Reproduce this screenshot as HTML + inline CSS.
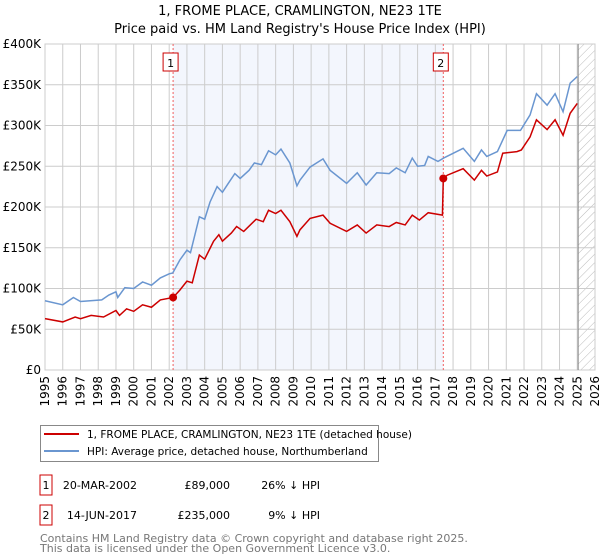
<!DOCTYPE html>
<html><head><meta charset="utf-8"><style>
body{margin:0;background:#fff;font-family:"DejaVu Sans","Liberation Sans",sans-serif;}
#wrap{position:relative;width:600px;height:560px;overflow:hidden;}
svg text{font-family:"DejaVu Sans","Liberation Sans",sans-serif;}
</style></head><body><div id="wrap">
<svg id="chart" width="600" height="560"></svg>
</div>
<script>
const hpiYears=[1995,1996,1996.6,1997,1998.2,1998.6,1999,1999.1,1999.5,2000,2000.5,2001,2001.5,2002,2002.2,2002.6,2003,2003.2,2003.7,2004,2004.3,2004.7,2005,2005.3,2005.7,2006,2006.5,2006.8,2007.2,2007.6,2008,2008.3,2008.8,2009.2,2009.37,2009.94,2010.67,2011.07,2012,2012.6,2013.1,2013.7,2014.4,2014.8,2015.3,2015.7,2016,2016.4,2016.6,2017.15,2017.55,2018.57,2019.2,2019.6,2019.9,2020.5,2021.05,2021.8,2022.34,2022.7,2023.3,2023.75,2024.2,2024.6,2025];
const hpiValues=[85,80,89,84,86,92,96,89,101,100,108,104,113,118,119,135,147,144,188,185,206,225,218,228,241,235,245,254,252,269,264,271,254,226,233,249,259,245,229,242,227,242,241,248,242,260,250,251,262,256,261,272,256,270,262,268,294,294,313,339,325,339,317,352,360];
const paidYears=[1995,1996,1996.7,1997,1997.6,1998.3,1999,1999.2,1999.6,2000,2000.5,2001,2001.5,2002.22,2002.6,2003,2003.3,2003.7,2004,2004.5,2004.8,2005,2005.5,2005.8,2006.2,2006.9,2007.3,2007.6,2008,2008.3,2008.8,2009.2,2009.37,2009.94,2010.67,2011.07,2012,2012.6,2013.1,2013.7,2014.4,2014.8,2015.3,2015.7,2016.1,2016.6,2017.4,2017.45,2017.67,2018.57,2019.2,2019.6,2019.9,2020.5,2020.8,2021.6,2021.85,2022.34,2022.7,2023.3,2023.75,2024.2,2024.6,2025];
const paidValues=[63,59,65,63,67,65,73,67,75,72,80,77,86,89,98,109,107,141,136,158,166,158,168,176,170,185,182,196,192,196,182,164,172,186,190,180,170,178,168,178,176,181,178,190,184,193,190,235,239,247,233,245,238,243,266,268,270,286,307,295,307,288,315,327];
const saleYears=[2002.22,2017.45];
const saleValues=[89,235];
const saleLabels=["1","2"];
const yTicks=[0,50,100,150,200,250,300,350,400];
const yTickLabels=["£0","£50K","£100K","£150K","£200K","£250K","£300K","£350K","£400K"];
const xTicks=[1995,1996,1997,1998,1999,2000,2001,2002,2003,2004,2005,2006,2007,2008,2009,2010,2011,2012,2013,2014,2015,2016,2017,2018,2019,2020,2021,2022,2023,2024,2025,2026];

const NS="http://www.w3.org/2000/svg";
const svg=document.getElementById('chart');
const L=45,R=595,T=44,B=370;
const x=v=>L+(v-1995)/(2026-1995)*(R-L);
const y=v=>B-v/400*(B-T);
function mk(tag,attrs,parent){const e=document.createElementNS(NS,tag);for(const k in attrs)e.setAttribute(k,attrs[k]);(parent||svg).appendChild(e);return e;}

const defs=mk('defs',{});
const pat=mk('pattern',{id:'hatch',width:6,height:6,patternUnits:'userSpaceOnUse',patternTransform:'rotate(45)'},defs);
mk('line',{x1:0,y1:0,x2:0,y2:6,stroke:'#bbb','stroke-width':1},pat);

let t=mk('text',{x:300,y:15,'text-anchor':'middle','font-size':13,fill:'#000'});t.textContent="1, FROME PLACE, CRAMLINGTON, NE23 1TE";


t=mk('text',{x:300,y:33,'text-anchor':'middle','font-size':13,fill:'#000'});t.textContent="Price paid vs. HM Land Registry's House Price Index (HPI)";



let sh=mk('rect',{x:x(saleYears[0]),y:T,width:x(saleYears[1])-x(saleYears[0]),height:B-T,fill:'#f3f6fd'});


let ht=mk('rect',{x:x(2025.05),y:T,width:R-x(2025.05),height:B-T,fill:'url(#hatch)'});



xTicks.forEach(v=>{
 const g=mk('line',{x1:x(v),x2:x(v),y1:T,y2:B,stroke:'#ccc','stroke-width':1});
 
 
 const tx=mk('text',{x:0,y:0,'font-size':12,fill:'#000','text-anchor':'end',transform:`translate(${x(v)+4},${B+6}) rotate(-90)`});
 tx.textContent=v;
 
 
});
yTicks.forEach((v,i)=>{
 const g=mk('line',{x1:L,x2:R,y1:y(v),y2:y(v),stroke:'#ccc','stroke-width':1});
 
 
 const tx=mk('text',{x:41,y:y(v)+4,'font-size':12,fill:'#000','text-anchor':'end'});
 tx.textContent=yTickLabels[i];
 
 
});
let ax=mk('rect',{x:L,y:T,width:R-L,height:B-T,fill:'none',stroke:'#ccc'});


let nl=mk('line',{x1:x(2025.05),x2:x(2025.05),y1:T,y2:B,stroke:'#888','stroke-width':1});



saleYears.forEach((v,i)=>{
 const l=mk('line',{x1:x(v),x2:x(v),y1:T,y2:B,stroke:'#f06060','stroke-width':1,'stroke-dasharray':'2,2'});
 
 
 const b=mk('rect',{x:x(v)-10,y:53,width:15,height:18,fill:'#fff',stroke:'#cc0000'});
 
 
 const tx=mk('text',{x:x(v)-2.5,y:67,'font-size':11,'text-anchor':'middle',fill:'#000'});
 tx.textContent=saleLabels[i];
 
 
});

let p=mk('polyline',{points:hpiYears.map((v,i)=>x(v)+','+y(hpiValues[i])).join(' '),fill:'none',stroke:'#6a96d0','stroke-width':1.5});


p=mk('polyline',{points:paidYears.map((v,i)=>x(v)+','+y(paidValues[i])).join(' '),fill:'none',stroke:'#cc0000','stroke-width':1.5});


saleYears.forEach((v,i)=>{
 const c=mk('circle',{cx:x(v),cy:y(saleValues[i]),r:4,fill:'#cc0000'});
 
 
});

// legend
let lg=mk('rect',{x:40.5,y:425.5,width:338,height:36,fill:'#fff',stroke:'#888'});


mk('line',{x1:44,x2:79,y1:434,y2:434,stroke:'#cc0000','stroke-width':2});
t=mk('text',{x:87,y:438,'font-size':10.5,fill:'#000'});t.textContent="1, FROME PLACE, CRAMLINGTON, NE23 1TE (detached house)";


mk('line',{x1:44,x2:79,y1:451,y2:451,stroke:'#6a96d0','stroke-width':2});
t=mk('text',{x:87,y:455,'font-size':10.5,fill:'#000'});t.textContent="HPI: Average price, detached house, Northumberland";



// table
const rows=[["1","20-MAR-2002","£89,000","26% ↓ HPI",485],["2","14-JUN-2017","£235,000","9% ↓ HPI",515]];
rows.forEach(r=>{
 const b=mk('rect',{x:40,y:r[4]-10,width:12,height:20,fill:'#fff',stroke:'#cc0000'});
 
 
 let a=mk('text',{x:46,y:r[4]+4,'font-size':11,'text-anchor':'middle'});a.textContent=r[0];
 
 
 a=mk('text',{x:137,y:r[4]+4,'font-size':11,'text-anchor':'end'});a.textContent=r[1];
 
 
 a=mk('text',{x:230,y:r[4]+4,'font-size':11,'text-anchor':'end'});a.textContent=r[2];
 
 
 a=mk('text',{x:320,y:r[4]+4,'font-size':11,'text-anchor':'end'});a.textContent=r[3];
 
 
});
t=mk('text',{x:40,y:542,'font-size':11,fill:'#777'});t.textContent="Contains HM Land Registry data © Crown copyright and database right 2025.";


t=mk('text',{x:40,y:552,'font-size':11,fill:'#777'});t.textContent="This data is licensed under the Open Government Licence v3.0.";


</script></body></html>
